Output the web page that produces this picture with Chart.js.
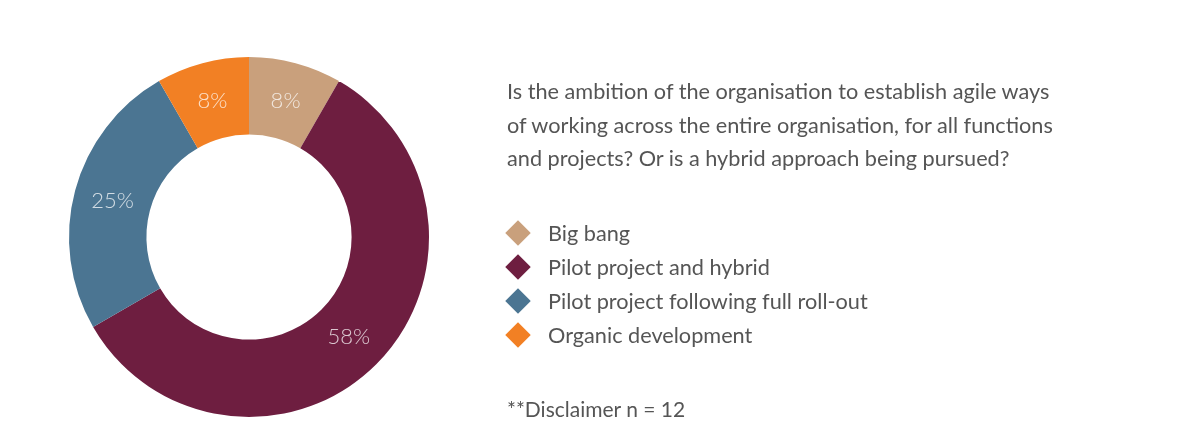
<!doctype html>
<html lang="en">
<head>
	<meta charset="utf-8">
	<title>Agile approach</title>
	<style>
		* { margin: 0; padding: 0; }
		body { width: 1200px; height: 448px; background: #fff; position: relative; overflow: hidden; font-family: Lato, sans-serif; color: #555; }
		#box { position: absolute; left: 0; top: 0; width: 1200px; height: 448px; }
		.question { position: absolute; left: 507px; top: 75px; font-size: 21.7px; line-height: 33.5px; width: 700px; white-space: nowrap; }
		.legend { position: absolute; left: 504px; top: 216px; list-style: none; font-size: 21.7px; }
		.legend li { height: 34px; line-height: 34px; display: flex; align-items: center; }
		.legend .mark { width: 18px; height: 18px; transform: rotate(45deg); margin: 0 21px 0 5px; }
		.note { position: absolute; left: 507px; top: 395px; font-size: 21px; line-height: 28px; }
	</style>
</head>
<body>
	<div id="box"><canvas id="donut" width="1200" height="448"></canvas></div>
	<div class="question">Is the ambition of the organisation to establish agile ways<br>of working across the entire organisation, for all functions<br>and projects? Or is a hybrid approach being pursued?</div>
	<ul class="legend" id="legend"></ul>
	<div class="note">**Disclaimer n = 12</div>

	<script src="https://cdn.jsdelivr.net/npm/chart.js"></script>
	<script>
		const labels = ['Big bang', 'Pilot project and hybrid', 'Pilot project following full roll-out', 'Organic development']
		const counts = [1, 7, 3, 1]
		const pctLabels = ['8%', '58%', '25%', '8%']
		const colors = ['#c9a07c', '#6e1e40', '#4b7592', '#f28024']

		// html legend built from the same arrays
		const legend = document.getElementById('legend')
		labels.forEach((l, i) => {
			const li = document.createElement('li')
			li.innerHTML = '<span class="mark" style="background:' + colors[i] + '"></span>' + l
			legend.appendChild(li)
		})

		// percentage text inside each slice
		const sliceLabels = {
			id: 'sliceLabels',
			afterDatasetsDraw(chart) {
				const c = chart.ctx
				const meta = chart.getDatasetMeta(0)
				c.save()
				c.font = '300 22px Lato, sans-serif'
				c.fillStyle = 'rgba(255,255,255,0.75)'
				c.textAlign = 'center'
				c.textBaseline = 'middle'
				meta.data.forEach((arc, i) => {
					const p = arc.tooltipPosition()
					c.fillText(pctLabels[i], p.x, p.y)
				})
				c.restore()
			}
		}

		const ctx = document.getElementById('donut')
		new Chart(ctx, {
			type: 'doughnut',
			data: {
				labels: labels,
				datasets: [{
					data: counts,
					backgroundColor: colors,
					borderWidth: 0
				}]
			},
			options: {
				responsive: false,
				animation: false,
				cutout: '57%',
				layout: {
					padding: { left: 69, right: 771, top: 57, bottom: 31 }
				},
				plugins: {
					legend: { display: false },
					tooltip: { enabled: false }
				}
			},
			plugins: [sliceLabels]
		})
	</script>
</body>
</html>
